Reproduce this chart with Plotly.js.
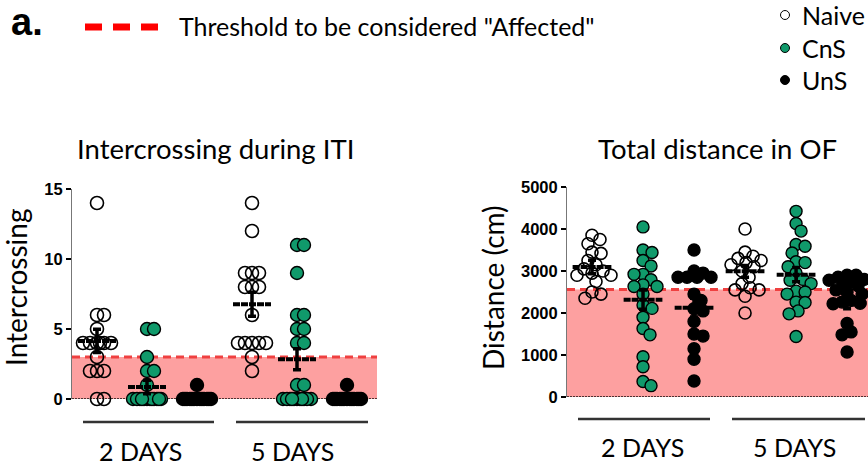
<!DOCTYPE html>
<html><head><meta charset="utf-8">
<script src="https://cdn.plot.ly/plotly-3.0.1.min.js"></script>
<style>html,body{margin:0;padding:0;background:#fff}#chart{width:868px;height:468px}</style>
</head><body><div id="chart"></div>
<script>
// ---------- DATA ----------
const groups = ['Naive', 'CnS', 'UnS'];
const dayLabels = ['2 DAYS', '5 DAYS'];

// Intercrossing during ITI
const icNaive2 = [14, 6, 6, 5, 4, 4, 4, 4, 4, 4, 3, 2, 2, 2, 0, 0];
const icCnS2   = [5, 5, 3, 2, 2, 1, 0, 0, 0, 0, 0, 0, 0, 0, 0, 0, 0, 0];
const icUnS2   = [1, 0, 0, 0, 0, 0, 0, 0, 0, 0, 0, 0, 0, 0];
const icNaive5 = [14, 12, 9, 9, 9, 8, 8, 8, 6, 4, 4, 4, 4, 4, 3, 2];
const icCnS5   = [11, 11, 9, 6, 6, 5, 5, 4, 4, 1, 1, 0, 0, 0, 0, 0, 0, 0, 0, 0, 0, 0];
const icUnS5   = [1, 0, 0, 0, 0, 0, 0, 0, 0, 0, 0, 0, 0, 0];
const icMean   = [4.15, 0.86, 0.05, 6.77, 2.84, 0.05];
const icSem    = [0.83, 0.48, 0.07, 0.86, 0.75, 0.07];
const icThreshold = 3;

// Total distance in OF (cm)
const odNaive2 = [3850, 3750, 3650, 3450, 3420, 3250, 3150, 3050, 3000, 2950, 2900, 2900, 2750, 2500, 2450, 2350];
const odCnS2   = [4050, 3500, 3440, 3250, 3120, 2920, 2920, 2790, 2670, 2630, 2630, 2450, 2190, 2110, 1900, 1630, 1480, 960, 720, 370, 270];
const odUnS2   = [3500, 3000, 2950, 2850, 2850, 2850, 2850, 2450, 2300, 2100, 2050, 1800, 1500, 1450, 1150, 900, 380];
const odNaive5 = [4000, 3450, 3350, 3300, 3250, 3200, 3150, 3100, 3000, 2850, 2700, 2600, 2550, 2550, 2400, 2000];
const odCnS5   = [4420, 4130, 3950, 3630, 3590, 3430, 3220, 3200, 3100, 2950, 2800, 2780, 2700, 2520, 2500, 2450, 2260, 2250, 2050, 1980, 1440];
const odUnS5   = [2900, 2900, 2850, 2800, 2780, 2750, 2700, 2650, 2550, 2500, 2450, 2300, 2260, 2230, 2220, 1750, 1550, 1480, 1070];
const odMean   = [3095, 2317, 2127, 2992, 2913, 2230];
const odSem    = [160, 230, 225, 140, 170, 130];
const odThreshold = 2560;

const leftTicks  = [0, 5, 10, 15];
const rightTicks = [0, 1000, 2000, 3000, 4000, 5000];

// ---------- LAYOUT HELPERS ----------
const W = 868, H = 468;
const px = x => x / W, py = y => 1 - y / H;
const GREEN = '#109a6b';
const FONT = 'Lato, "Open Sans", sans-serif';
const BOLDFONT = '"Liberation Sans", Arial, sans-serif';

// panel geometry (pixels)
const P = {
  L: {x0: 72, x1: 377, yTop: 189, yZero: 399, xr: [0.5, 6.6], yr: [0, 15], pos: [1, 2, 3, 4.1, 5, 6],
      size: 13, dmin: 7, maxHalf: 16},
  R: {x0: 567, x1: 868, yTop: 187, yZero: 397, xr: [0.51, 6.41], yr: [0, 5000], pos: [1, 2, 3, 4, 5, 6],
      size: 12, dmin: 9, maxHalf: 19}
};
for (const k in P) {
  const p = P[k];
  p.pxX = (p.x1 - p.x0) / (p.xr[1] - p.xr[0]);
  p.pxY = (p.yZero - p.yTop) / (p.yr[1] - p.yr[0]);
}

// simple beeswarm: returns x offsets (data units) so that markers do not pile up
function swarm(vals, p) {
  const placed = [], out = new Array(vals.length);
  const idx = vals.map((v, i) => i).sort((a, b) => vals[b] - vals[a]);
  for (const i of idx) {
    const y = vals[i] * p.pxY;
    let chosen = null, fb = 0, fbScore = -1;
    outer:
    for (let k = 0; k <= p.maxHalf; k++) {
      for (const s of (k === 0 ? [0] : [k, -k])) {
        let m = Infinity;
        for (const q of placed) { const d = Math.hypot(q.x - s, q.y - y); if (d < m) m = d; }
        if (m >= p.dmin) { chosen = s; break outer; }
        if (m > fbScore) { fbScore = m; fb = s; }
      }
    }
    if (chosen === null) chosen = fb;
    placed.push({x: chosen, y});
    out[i] = chosen / p.pxX;
  }
  return out;
}

const traces = [];
function addPoints(vals, gi, p, xa, ya, groupIdx) {
  const off = swarm(vals, p);
  const c = p.pos[gi];
  const open = groupIdx === 0;
  traces.push({
    type: 'scatter', mode: 'markers', xaxis: xa, yaxis: ya, cliponaxis: false,
    x: off.map(o => c + o), y: vals, showlegend: false, hoverinfo: 'skip',
    marker: open
      ? {symbol: 'circle-open', size: p.size, color: '#000', line: {color: '#000', width: 1.6}}
      : {symbol: 'circle', size: p.size, color: groupIdx === 1 ? GREEN : '#000', line: {color: '#000', width: 1.4}}
  });
}
function addSummary(means, sems, p, xa, ya) {
  const mx = [], my = [];
  means.forEach((m, i) => { mx.push(p.pos[i] - 0.38, p.pos[i] + 0.38, null); my.push(m, m, null); });
  traces.push({type: 'scatter', mode: 'lines', xaxis: xa, yaxis: ya, cliponaxis: false, x: mx, y: my,
    line: {color: '#000', width: 4, dash: '7px,1px'}, showlegend: false, hoverinfo: 'skip'});
  traces.push({type: 'scatter', mode: 'markers', xaxis: xa, yaxis: ya, cliponaxis: false,
    x: p.pos, y: means, marker: {size: 1, opacity: 0}, showlegend: false, hoverinfo: 'skip',
    error_y: {type: 'data', array: sems, visible: true, color: '#000', thickness: 3.5, width: 4}});
}

const icSets = [icNaive2, icCnS2, icUnS2, icNaive5, icCnS5, icUnS5];
const odSets = [odNaive2, odCnS2, odUnS2, odNaive5, odCnS5, odUnS5];
icSets.forEach((v, i) => addPoints(v, i, P.L, 'x', 'y', i % 3));
odSets.forEach((v, i) => addPoints(v, i, P.R, 'x2', 'y2', i % 3));
addSummary(icMean, icSem, P.L, 'x', 'y');
addSummary(odMean, odSem, P.R, 'x2', 'y2');

// ---------- SHAPES ----------
const shapes = [];
function panelShapes(p, xref, yref, thr) {
  shapes.push({type: 'rect', xref, yref, x0: p.xr[0], x1: p.xr[1], y0: 0, y1: thr,
    fillcolor: '#fda0a0', line: {width: 0}, layer: 'below'});
  shapes.push({type: 'line', xref, yref, x0: p.xr[0], x1: p.xr[1], y0: thr, y1: thr,
    line: {color: '#ef4040', width: 3, dash: '8px,5px'}, layer: 'below'});
  shapes.push({type: 'line', xref, yref, x0: p.xr[0], x1: p.xr[1], y0: 0, y1: 0,
    line: {color: '#111', width: 1.5, dash: '2px,1px'}, layer: 'below'});
}
panelShapes(P.L, 'x', 'y', icThreshold);
panelShapes(P.R, 'x2', 'y2', odThreshold);

// category underline bars
function dayBar(x0, x1, y) {
  shapes.push({type: 'line', xref: 'paper', yref: 'paper', x0: px(x0), x1: px(x1), y0: py(y), y1: py(y),
    line: {color: '#333', width: 2.5}});
}
dayBar(83, 214, 422); dayBar(236, 368, 422);
dayBar(578, 710, 419); dayBar(732, 865, 419);

// header legend: red dashed sample
shapes.push({type: 'line', xref: 'paper', yref: 'paper', x0: px(85), x1: px(158), y0: py(27), y1: py(27),
  line: {color: '#ff0000', width: 7, dash: '17px,11px'}});
// group legend markers
const legendY = [15, 48, 80];
const legendFill = ['rgba(0,0,0,0)', GREEN, '#000'];
groups.forEach((g, i) => {
  shapes.push({type: 'circle', xref: 'paper', yref: 'paper',
    x0: px(780.5), x1: px(789.5), y0: py(legendY[i] + 4.5), y1: py(legendY[i] - 4.5),
    fillcolor: legendFill[i], line: {color: '#000', width: 1}});
});

// ---------- ANNOTATIONS ----------
const ann = [];
function txt(text, x, y, size, opts = {}) {
  ann.push(Object.assign({text, xref: 'paper', yref: 'paper', x: px(x), y: py(y), showarrow: false,
    xanchor: 'center', yanchor: 'middle', font: {family: FONT, size, color: '#000'}}, opts));
}
txt('a.', 9, 22, 38, {xanchor: 'left', font: {family: BOLDFONT, size: 38, color: '#000', weight: 'bold'}});
txt('Threshold to be considered "Affected"', 177, 26, 25, {xanchor: 'left'});
groups.forEach((g, i) => txt(g, 800, legendY[i], 25, {xanchor: 'left'}));
txt('Intercrossing during ITI', 215, 148, 27.5);
txt('Total distance in OF', 717, 148, 27.5);
txt('Intercrossing', 16, 288, 28, {textangle: -90});
txt('Distance (cm)', 493, 287, 28, {textangle: -90});
txt(dayLabels[0], 140, 451, 25); txt(dayLabels[1], 292, 451, 25);
txt(dayLabels[0], 642, 447, 25); txt(dayLabels[1], 794, 447, 25);

// ---------- AXES ----------
function yAxis(p, ticks) {
  return {range: p.yr, domain: [py(p.yZero), py(p.yTop)], showgrid: false, zeroline: false,
    showline: true, linecolor: '#777', linewidth: 1, ticks: 'outside', ticklen: 5, tickwidth: 1.5,
    tickcolor: '#000', tickvals: ticks, ticktext: ticks.map(String),
    tickfont: {family: BOLDFONT, size: 16.5, color: '#000', weight: 'bold'}, fixedrange: true};
}
function xAxis(p, anchor) {
  return {range: p.xr, domain: [px(p.x0), px(p.x1)], visible: false, showgrid: false, zeroline: false,
    anchor, fixedrange: true};
}

const layout = {
  width: W, height: H, margin: {l: 0, r: 0, t: 0, b: 0, pad: 0},
  paper_bgcolor: '#fff', plot_bgcolor: 'rgba(0,0,0,0)', showlegend: false,
  xaxis: xAxis(P.L, 'y'), yaxis: Object.assign(yAxis(P.L, leftTicks), {anchor: 'x'}),
  xaxis2: xAxis(P.R, 'y2'), yaxis2: Object.assign(yAxis(P.R, rightTicks), {anchor: 'x2'}),
  shapes, annotations: ann
};

Plotly.newPlot('chart', traces, layout, {staticPlot: true, displayModeBar: false});
</script>
</body></html>
